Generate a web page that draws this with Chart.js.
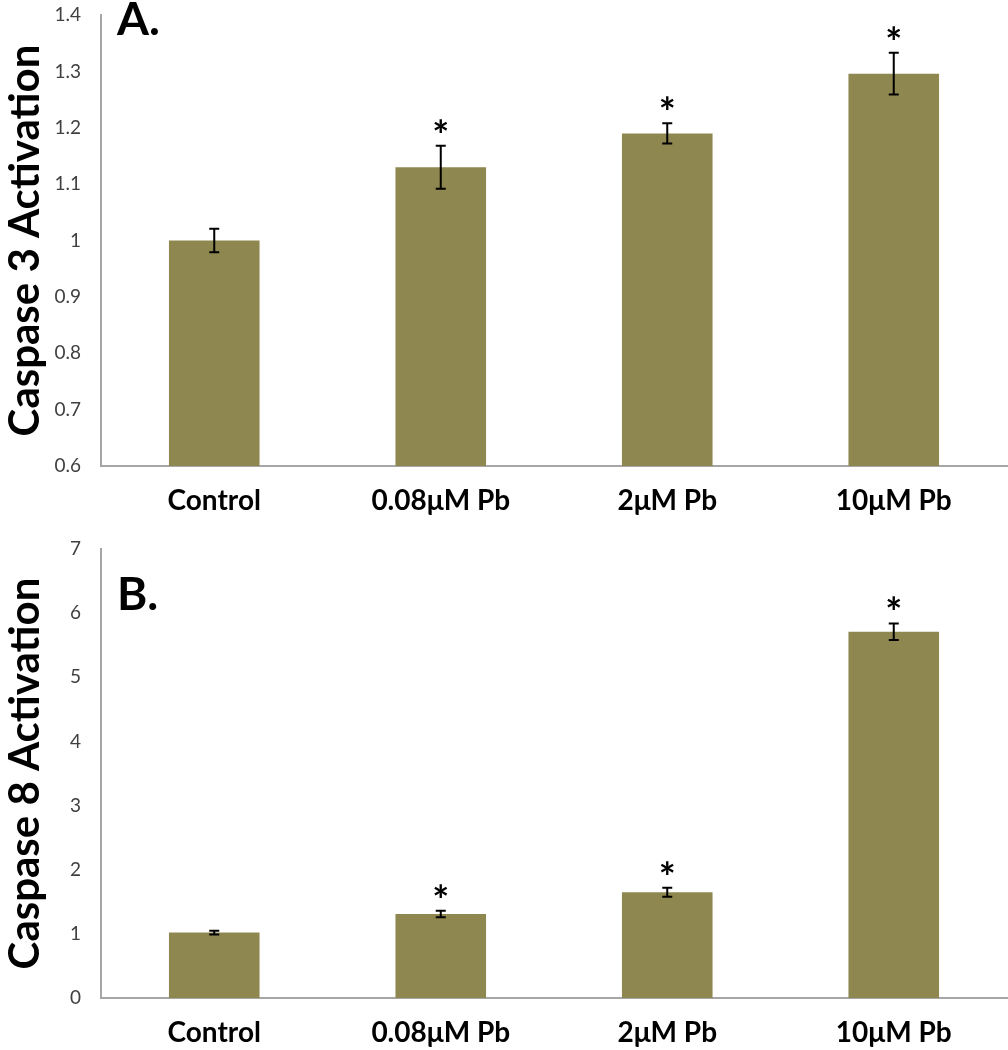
<!DOCTYPE html>
<html>
<head>
<meta charset="utf-8">
<script src="https://cdn.jsdelivr.net/npm/chart.js@4.4.1/dist/chart.umd.min.js"></script>
<style>
  html, body { margin: 0; padding: 0; background: #fff; }
  .panel { position: relative; width: 1008px; height: 525px; }
</style>
</head>
<body>
<div class="panel"><canvas id="chartA"></canvas></div>
<div class="panel"><canvas id="chartB"></canvas></div>
<script>
// data
const categories = ['Control', '0.08\u03bcM Pb', '2\u03bcM Pb', '10\u03bcM Pb'];

const casp3Values = [1.0, 1.13, 1.19, 1.296];
const casp3Errors = [0.021, 0.038, 0.018, 0.037];
const casp3Signif = [false, true, true, true];

const casp8Values = [1.02, 1.31, 1.65, 5.71];
const casp8Errors = [0.03, 0.05, 0.07, 0.13];
const casp8Signif = [false, true, true, true];

const barColor = '#8f8750';
const axisColor = '#a6a6a6';
const fontFamily = 'Lato, "Open Sans", sans-serif';

// draws the error bars, the asterisks and the panel letter
const extrasPlugin = {
  id: 'extras',
  afterDatasetsDraw(chart, args, opts) {
    const ctx = chart.ctx;
    const yScale = chart.scales.y;
    const meta = chart.getDatasetMeta(0);
    ctx.save();
    meta.data.forEach((bar, i) => {
      const v = opts.values[i];
      const e = opts.errors[i];
      const yTop = yScale.getPixelForValue(v + e);
      const yBot = yScale.getPixelForValue(v - e);
      ctx.strokeStyle = '#000';
      ctx.lineWidth = 2;
      ctx.beginPath();
      ctx.moveTo(bar.x, yTop);
      ctx.lineTo(bar.x, yBot);
      ctx.moveTo(bar.x - 5, yTop);
      ctx.lineTo(bar.x + 5, yTop);
      ctx.moveTo(bar.x - 5, yBot);
      ctx.lineTo(bar.x + 5, yBot);
      ctx.stroke();
      if (opts.signif[i]) {
        ctx.fillStyle = '#000';
        ctx.font = 'bold 40px ' + fontFamily;
        ctx.textAlign = 'center';
        ctx.textBaseline = 'alphabetic';
        ctx.fillText('*', bar.x, yTop + 4);
      }
    });
    ctx.fillStyle = '#000';
    ctx.font = 'bold 46px ' + fontFamily;
    ctx.textAlign = 'left';
    ctx.textBaseline = 'alphabetic';
    ctx.fillText(opts.letter, chart.chartArea.left + 16, chart.chartArea.top + opts.letterDy);
    ctx.restore();
  }
};

function makeChart(id, values, errors, signif, yMin, yMax, step, title, letter, letterDy, padTop, xHeight) {
  return new Chart(document.getElementById(id), {
    type: 'bar',
    data: {
      labels: categories,
      datasets: [{
        data: values,
        backgroundColor: barColor,
        borderWidth: 0,
        categoryPercentage: 1.0,
        barPercentage: 0.4
      }]
    },
    options: {
      responsive: true,
      maintainAspectRatio: false,
      animation: false,
      layout: { padding: { top: padTop, right: 1, bottom: 0, left: 0 } },
      plugins: {
        legend: { display: false },
        tooltip: { enabled: false },
        extras: { values, errors, signif, letter, letterDy }
      },
      scales: {
        x: {
          grid: { display: false, drawTicks: false },
          border: { display: true, color: axisColor, width: 2 },
          ticks: {
            color: '#000',
            padding: 18,
            maxRotation: 0,
            font: { family: fontFamily, size: 28, weight: 'bold' }
          },
          afterFit: (scale) => { scale.height = xHeight; }
        },
        y: {
          min: yMin,
          max: yMax,
          // tick marks are hidden with the grid; their length only spaces the labels
          grid: { display: false, drawTicks: true, tickLength: 20 },
          border: { display: true, color: axisColor, width: 2 },
          ticks: {
            stepSize: step,
            color: '#404040',
            padding: 0,
            font: { family: fontFamily, size: 19 },
            callback: (v) => String(Math.round(v * 10) / 10)
          },
          title: {
            display: true,
            text: title,
            color: '#000',
            padding: 0,
            font: { family: fontFamily, size: 42, weight: 'bold' }
          },
          afterFit: (scale) => { scale.width = 101; }
        }
      }
    },
    plugins: [extrasPlugin]
  });
}

makeChart('chartA', casp3Values, casp3Errors, casp3Signif, 0.6, 1.4, 0.1,
  'Caspase 3 Activation', 'A.', 20, 15, 59);
makeChart('chartB', casp8Values, casp8Errors, casp8Signif, 0, 7, 1,
  'Caspase 8 Activation', 'B.', 61, 24, 52);
</script>
</body>
</html>
